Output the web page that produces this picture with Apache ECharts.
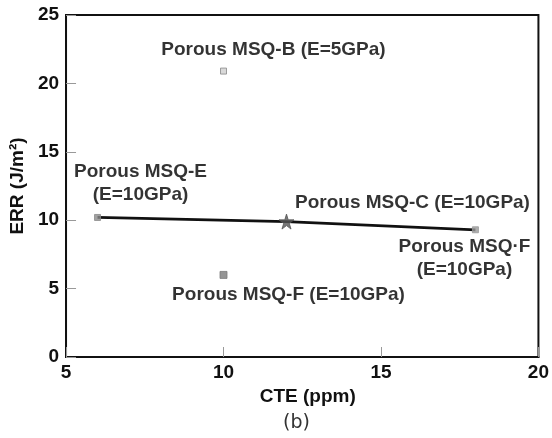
<!DOCTYPE html>
<html>
<head>
<meta charset="utf-8">
<script src="https://cdn.jsdelivr.net/npm/echarts@6/dist/echarts.min.js"></script>
<style>html,body{margin:0;padding:0;background:#fff;}#c{width:552px;height:438px;}</style>
</head>
<body>
<div id="c"></div>
<script>
// Data
const lineCTE = [6, 12, 18];
const lineERR = [10.2, 9.9, 9.3];
const pointNames = ['Porous MSQ-B (E=5GPa)', 'Porous MSQ-E\n(E=10GPa)', 'Porous MSQ-C (E=10GPa)', 'Porous MSQ·F\n(E=10GPa)', 'Porous MSQ-F (E=10GPa)'];
const pointCTE = [10, 6, 12, 18, 10];
const pointERR = [20.9, 10.2, 9.9, 9.3, 6.0];
const xTicks = [5, 10, 15, 20];
const yTicks = [0, 5, 10, 15, 20, 25];

const STAR = 'path://M50,0 L61,35 L98,35 L68,57 L79,91 L50,70 L21,91 L32,57 L2,35 L39,35 Z';
const styles = [
  {symbol: 'rect', size: 6, color: '#cfcfcf', border: '#888', offset: [50, -21]},
  {symbol: 'rect', size: 6, color: '#8a8a8a', border: '#8a8a8a', offset: [43, -34]},
  {symbol: STAR, size: 15, color: '#555', border: '#555', offset: [126, -19]},
  {symbol: 'rect', size: 6, color: '#9a9a9a', border: '#9a9a9a', offset: [-11, 28]},
  {symbol: 'rect', size: 7, color: '#7a7a7a', border: '#7a7a7a', offset: [65, 20]}
];

const FONT = '"Liberation Sans", Arial, sans-serif';
const chart = echarts.init(document.getElementById('c'));
chart.setOption({
  animation: false,
  grid: {left: 65, right: 10, top: 15, bottom: 81, show: true, borderColor: '#111', borderWidth: 2},
  xAxis: {
    type: 'value', min: xTicks[0], max: xTicks[xTicks.length - 1], interval: 5,
    name: 'CTE (ppm)', nameLocation: 'middle', nameGap: 29,
    nameTextStyle: {fontFamily: FONT, fontWeight: 'bold', fontSize: 19, color: '#111', padding: [0, 0, 0, 11]},
    axisLine: {show: true, lineStyle: {color: '#111', width: 2}},
    axisTick: {show: true, inside: true, length: 10, lineStyle: {color: '#999', width: 1}},
    axisLabel: {fontFamily: FONT, fontWeight: 'bold', fontSize: 19, color: '#111', margin: 6},
    splitLine: {show: false}
  },
  yAxis: {
    type: 'value', min: yTicks[0], max: yTicks[yTicks.length - 1], interval: 5,
    name: 'ERR (J/m²)', nameLocation: 'middle', nameGap: 36, nameRotate: 90,
    nameTextStyle: {fontFamily: FONT, fontWeight: 'bold', fontSize: 19, color: '#111'},
    axisLine: {show: true, lineStyle: {color: '#111', width: 2}},
    axisTick: {show: true, inside: true, length: 10, lineStyle: {color: '#999', width: 1}},
    axisLabel: {fontFamily: FONT, fontWeight: 'bold', fontSize: 19, color: '#111', margin: 7},
    splitLine: {show: false}
  },
  graphic: [{
    type: 'text', left: 283, top: 414,
    style: {text: '(b)', font: '19px "DejaVu Sans", sans-serif', fill: '#333'}
  }],
  series: [
    {
      type: 'line', data: lineCTE.map((x, i) => [x, lineERR[i]]),
      symbol: 'none', lineStyle: {color: '#111', width: 2.8}, z: 2
    },
    {
      type: 'scatter', z: 3,
      data: pointCTE.map((x, i) => ({
        value: [x, pointERR[i]],
        symbol: styles[i].symbol,
        symbolSize: styles[i].size,
        itemStyle: {color: styles[i].color, borderColor: styles[i].border, borderWidth: 1},
        label: {
          show: true, formatter: pointNames[i], position: 'inside', offset: styles[i].offset,
          fontFamily: FONT, fontWeight: 'bold', fontSize: 19, color: '#000', lineHeight: 23,
          textBorderWidth: 0, align: 'center', verticalAlign: 'middle'
        }
      }))
    }
  ]
});
</script>
</body>
</html>
